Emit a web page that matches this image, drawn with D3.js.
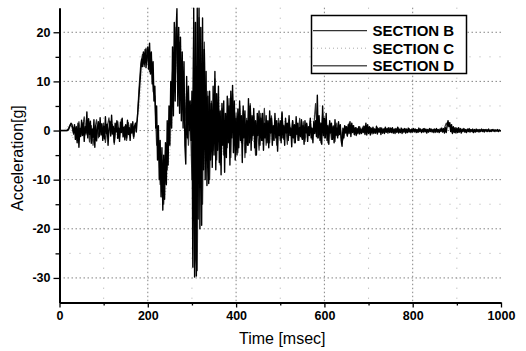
<!DOCTYPE html>
<html>
<head>
<meta charset="utf-8">
<script src="https://cdn.jsdelivr.net/npm/d3@7"></script>
<style>
  body { margin: 0; background: #fff; }
  svg { display: block; font-family: "Liberation Sans", Arial, sans-serif; }
</style>
</head>
<body>
<svg id="chart" width="526" height="351"></svg>
<script>
// ── Data ────────────────────────────────────────────────────────────────────
const xTicks = [0, 200, 400, 600, 800, 1000];
const yTicks = [-30, -20, -10, 0, 10, 20];
const xMinor = [100, 300, 500, 700, 900];
const yMinor = [-25, -15, -5, 5, 15];
const seriesNames = ["SECTION B", "SECTION C", "SECTION D"];

// sample spacing in msec for each record
const stepB = 2;
const stepC = 10;
const stepD = 4;

// SECTION B, every 2 ms, 0..1000
const secB = [
  0, 0, 0, 0, 0, 0, 0, 0, 0, 0, 0.2, 0.5, 1.0, 1.5, 1.3, 0.6, -0.5, 1.2, -1.8, 0.8, -2.5, 1.5, -3.4, 0.5, -1.2,
  2.1, -1.0, 1.6, -2.2, 0.8, -0.5, 3.8, -1.5, 2.4, -0.8, 1.9, -2.6, 0.3, -1.4, 2.2, -3.4, 1.0, -2.1, 0.6, 1.8, -1.2, 2.6, -0.9, 1.4, -2.0,
  0.9, -1.7, 2.8, -0.6, 1.3, -3.0, 0.4, 1.9, -1.1, 3.1, -0.7, 0.8, -2.4, 1.5, -0.3, 2.0, -1.6, 0.5, -2.2, 1.7, -0.4, 2.5, -1.3, 0.7, -1.9,
  1.2, -1.5, 2.1, -0.8, 0.6, -2.0, 1.4, -0.5, 1.8, -1.2, 0.9, 1.5, -0.3, 2.2, 4.5, 7.0, 9.5, 12.0, 14.5, 13.0, 16.0, 13.5, 16.5, 12.8, 15.5,
  17.0, 12.5, 17.8, 11.5, 16.0, 9.5, 14.0, 6.0, 9.0, 0.5, 5.0, -6.0, 1.0, -10.0, -2.0, -13.5, -3.5, -16.2, -5.0, -14.0, -2.5, -11.0, 2.0, -7.0, 5.0,
  -3.0, 10.0, 0.5, 17.0, 3.0, 22.0, 6.0, 20.0, 24.8, 5.0, 21.0, 3.5, 19.0, 2.0, 16.0, 0.5, 14.0, -3.0, -6.8, 11.0, -1.5, 9.0, 0.0, 6.0, -2.0,
  8.0, -27.8, 24.9, -29.8, 22.0, -29.6, 24.9, -18.0, 24.9, -20.0, 21.0, -19.3, 22.9, -8.0, 16.5, -10.0, 12.0, -11.2, 7.0, -10.8, 8.0, -6.0, 5.5, -7.5, 9.0,
  -5.0, 12.0, -8.0, 7.5, -4.0, 9.0, -6.5, 4.0, -9.0, 5.5, -3.0, 6.0, -8.5, 3.5, -5.5, 7.0, -2.5, 5.0, -7.0, 8.0, -1.5, 9.2, -4.5, 6.0, -6.0,
  2.5, -5.0, 4.4, -3.5, 6.0, -2.0, 3.0, -6.5, 5.0, -1.5, 4.0, -4.5, 2.0, -3.0, 6.5, -2.5, 5.0, -4.0, 3.0, -1.0, 4.5, -3.5, 2.0, -5.0, 3.5,
  -1.0, 4.0, -3.0, 2.5, -2.0, 3.5, -4.0, 1.5, -1.5, 3.0, -2.5, 2.0, -3.5, 4.0, -0.5, 2.5, -3.0, 1.0, -2.0, 3.5, -1.5, 2.0, -4.2, 1.5, -1.0,
  2.0, -2.5, 3.8, -1.5, 1.0, -3.0, 2.5, -0.5, 1.5, -2.0, 3.0, -1.0, 0.5, -3.3, 2.0, -1.5, 1.2, -2.5, 2.8, -0.8, 1.5, -2.0, 0.7, -1.2, 2.2,
  -1.8, 1.0, -2.8, 2.0, -0.5, 1.5, -2.2, 0.8, -1.0, 2.5, -1.5, 0.5, -2.5, 1.8, -0.6, 2.0, -1.2, 7.2, -1.5, 3.0, -2.0, 1.5, -2.8, 5.0, -1.0,
  2.5, -1.5, 3.5, -2.0, 1.0, -2.8, 2.0, -0.5, 1.5, -1.8, 0.8, -2.5, 2.2, -1.0, 0.5, -1.5, 1.8, -0.8, 1.2, -2.0, -3.2, 0.5, -1.5, 1.0, -0.5,
  0.8, -1.0, 1.2, -0.6, 1.8, -1.2, 1.5, -0.4, 1.0, -0.8, 0.6, -1.0, 0.4, -0.5, 0.8, -0.7, 0.3, -0.6, 0.5, -0.4, 0.9, -0.8, 1.5, -0.9, 1.2,
  -0.6, 0.8, -0.9, 0.5, -0.4, 0.7, -0.6, 0.3, -0.5, 0.9, -0.7, 0.4, -0.3, 0.6, -0.8, 0.5, -0.4, 0.3, -0.6, 0.7, -0.3, 0.4, -0.5, 0.6, -0.4,
  0.5, -0.4, 0.6, -0.5, 0.3, -0.6, 0.4, -0.3, 0.7, -0.5, 0.2, -0.4, 0.5, -0.6, 0.3, -0.2, 0.4, -0.5, 0.3, -0.4, 0.5, -0.3, 0.2, -0.4, 0.3,
  -0.3, 0.4, -0.2, 0.3, -0.4, 0.2, -0.3, 0.5, -0.2, 0.3, -0.4, 0.2, -0.3, 0.4, -0.2, 0.3, -0.5, 0.2, -0.3, 0.4, -0.2, 0.3, -0.3, 0.2, -0.4,
  0.3, -0.2, 0.4, -0.3, 0.2, -0.4, 0.3, -0.2, 0.5, -0.3, 0.4, -0.5, 0.6, -0.4, 1.0, 2.0, 0.8, 1.6, -0.2, 1.2, -0.6, 0.8, -0.4, 0.6, -0.5,
  0.5, -0.4, 0.6, -0.3, 0.4, -0.5, 0.3, -0.2, 0.4, -0.3, 0.2, -0.4, 0.3, -0.2, 0.4, -0.3, 0.2, -0.2, 0.3, -0.4, 0.2, -0.3, 0.3, -0.2, 0.2,
  -0.3, 0.2, -0.2, 0.3, -0.2, 0.2, -0.3, 0.2, -0.1, 0.2, -0.2, 0.3, -0.2, 0.1, -0.2, 0.2, -0.1, 0.2, -0.2, 0.1, -0.1, 0.2, -0.2, 0.1, -0.1,
  0
];

// SECTION C, every 10 ms, 0..1000
const secC = [
  0, 0, 1.0, -1.5, 1.2, -0.8, 2.0, -1.6, 0.9, -1.2,
  1.5, -1.0, 2.0, -1.4, 0.8, -1.1, 1.2, -0.5, 4.0, 14.0,
  15.0, 12.0, 2.0, -8.0, -13.0, -4.0, 8.0, 20.0, 14.0, -2.0,
  6.0, -20.0, 18.0, -8.0, 6.0, -3.0, 8.0, -5.0, 4.0, 6.0,
  -3.0, 4.0, -4.0, 5.0, -2.5, 3.0, -3.0, 2.0, -2.0, 2.5,
  -2.0, 2.0, -1.5, 1.8, -2.0, 1.2, -1.5, 1.5, 4.0, 2.0,
  -1.5, 1.5, -1.2, 1.0, -2.0, 0.8, 1.2, -0.6, 0.8, -0.5,
  0.5, -0.4, 0.4, -0.5, 0.3, -0.3, 0.4, -0.2, 0.3, -0.3,
  0.2, -0.3, 0.3, -0.2, 0.2, -0.3, 0.3, 1.2, 0.6, -0.2,
  0.2, -0.2, 0.2, -0.1, 0.2, -0.2, 0.1, -0.1, 0.1, -0.1,
  0
];

// SECTION D, every 4 ms, 0..1000
const secD = [
  0, 0, 0, 0, 0, 0.4, 1.2, 0.8, -0.8, 0.5, -2.0, 1.8, -1.0, 0.6, 2.8, -0.9, 1.5, -2.3, 1.0, -3.0, 0.4, 2.2, -1.5, 0.9, -0.6,
  1.5, -2.4, 0.7, 2.6, -0.9, 1.2, -2.8, 0.6, 1.8, -1.4, 2.3, -0.5, 0.9, -2.0, 1.6, -1.0, 0.8, -1.6, 1.1, 2.0, 8.5, 13.5, 15.5, 13.0, 16.8,
  14.5, 12.0, 15.0, 8.0, 7.0, -3.0, -1.0, -11.0, -6.0, -15.0, -4.0, -8.0, 2.0, 4.0, 12.0, 8.0, 21.0, 10.0, 18.0, 6.0, 12.0, 2.0, 8.0, -3.0, 4.0,
  -10.0, 22.0, -26.0, -28.5, 23.0, 12.0, -15.0, 18.0, -6.0, 8.0, -10.0, 6.0, -4.0, 10.5, -6.0, 5.0, -7.0, 4.5, -5.0, 2.0, -3.5, 6.5, -5.5, 7.5, -3.0,
  3.5, -4.5, 5.0, -2.5, 4.0, -5.5, 2.5, -3.0, 5.5, -2.0, 3.0, -5.0, 1.5, -4.0, 3.5, -2.0, 4.5, -3.0, 1.8, -2.5, 3.0, -1.5, 2.0, -3.0, 2.5,
  -2.0, 3.5, -1.8, 1.5, -2.8, 2.2, -1.0, 2.0, -2.5, 1.0, -2.0, 2.5, -1.5, 1.8, -2.2, 1.2, -1.0, 2.0, -1.8, 0.8, 5.5, -1.5, 2.0, -2.5, 3.5,
  -1.5, 2.2, -2.5, 1.5, -1.8, 1.0, -2.2, 1.5, -1.0, 0.5, -2.5, -1.0, 0.8, -1.2, 1.5, -0.6, 1.0, -0.9, 0.6, -0.7, 0.8, -0.5, 0.9, -0.6, 1.0,
  -0.5, 0.6, -0.7, 0.4, -0.5, 0.6, -0.3, 0.5, -0.6, 0.4, -0.4, 0.5, -0.3, 0.4, -0.5, 0.3, -0.4, 0.5, -0.3, 0.2, -0.4, 0.3, -0.3, 0.4, -0.2,
  0.3, -0.3, 0.2, -0.4, 0.3, -0.2, 0.4, -0.3, 0.2, -0.3, 0.3, -0.2, 0.3, -0.4, 0.2, -0.3, 0.4, -0.2, 0.5, 1.5, 0.9, 1.2, -0.3, 0.5, -0.4,
  0.3, -0.3, 0.2, -0.2, 0.3, -0.3, 0.2, -0.2, 0.2, -0.3, 0.2, -0.2, 0.1, -0.2, 0.2, -0.1, 0.2, -0.2, 0.1, -0.1, 0.2, -0.1, 0.1, -0.1, 0.1,
  0
];

// ── Scales ─────────────────────────────────────────────────────────────────
const svg = d3.select("#chart");
const plot = { left: 59.5, right: 501, top: 7.7, bottom: 302.5 };

const x = d3.scaleLinear().domain([0, 1000]).range([plot.left, plot.right]);
const y = d3.scaleLinear().domain([-35, 25]).range([plot.bottom, plot.top]);

// ── Grid ───────────────────────────────────────────────────────────────────
const grid = svg.append("g").attr("fill", "none");

grid.selectAll("line.vmin").data(xMinor).join("line")
  .attr("x1", (d) => x(d)).attr("x2", (d) => x(d))
  .attr("y1", plot.top).attr("y2", plot.bottom)
  .attr("stroke", "#999").attr("stroke-width", 0.8).attr("stroke-dasharray", "1 9");

grid.selectAll("line.hmin").data(yMinor).join("line")
  .attr("x1", plot.left).attr("x2", plot.right)
  .attr("y1", (d) => y(d)).attr("y2", (d) => y(d))
  .attr("stroke", "#999").attr("stroke-width", 0.8).attr("stroke-dasharray", "1 9");

grid.selectAll("line.vmaj").data(xTicks.slice(1, -1)).join("line")
  .attr("x1", (d) => x(d)).attr("x2", (d) => x(d))
  .attr("y1", plot.top).attr("y2", plot.bottom)
  .attr("stroke", "#777").attr("stroke-width", 0.9).attr("stroke-dasharray", "1.5 2.5");

grid.selectAll("line.hmaj").data(yTicks).join("line")
  .attr("x1", plot.left).attr("x2", plot.right)
  .attr("y1", (d) => y(d)).attr("y2", (d) => y(d))
  .attr("stroke", "#777").attr("stroke-width", 0.9).attr("stroke-dasharray", "1.5 2.5");

// ── Records ────────────────────────────────────────────────────────────────
svg.append("clipPath").attr("id", "clip").append("rect")
  .attr("x", plot.left).attr("y", plot.top - 1)
  .attr("width", plot.right - plot.left).attr("height", plot.bottom - plot.top + 1);

const lineFor = (step) => d3.line().x((d, i) => x(i * step)).y((d) => y(d));

const traces = svg.append("g").attr("clip-path", "url(#clip)").attr("fill", "none")
  .attr("stroke-linejoin", "round");

traces.append("path").datum(secC).attr("d", lineFor(stepC))
  .attr("stroke", "#aaa").attr("stroke-width", 0.8).attr("stroke-dasharray", "1 2");
traces.append("path").datum(secD).attr("d", lineFor(stepD))
  .attr("stroke", "#333").attr("stroke-width", 1.2);
traces.append("path").datum(secB).attr("d", lineFor(stepB))
  .attr("stroke", "#000").attr("stroke-width", 1.4);

// ── Axes ───────────────────────────────────────────────────────────────────
const fmt = (d) => String(d);

svg.append("g").attr("transform", `translate(0,${plot.bottom})`)
  .call(d3.axisBottom(x).tickValues(xTicks).tickFormat(fmt).tickSize(5).tickSizeOuter(0).tickPadding(4));
svg.append("g").attr("transform", `translate(0,${plot.bottom})`)
  .call(d3.axisBottom(x).tickValues(xMinor).tickSize(3).tickFormat(""))
  .call((g) => g.select(".domain").remove());

svg.append("g").attr("transform", `translate(${plot.left},0)`)
  .call(d3.axisLeft(y).tickValues(yTicks).tickFormat(fmt).tickSize(6).tickSizeOuter(0).tickPadding(3));
svg.append("g").attr("transform", `translate(${plot.left},0)`)
  .call(d3.axisLeft(y).tickValues(yMinor).tickSize(4).tickFormat(""))
  .call((g) => g.select(".domain").remove());

svg.selectAll(".domain").attr("stroke", "#000").attr("stroke-width", 2);
svg.selectAll(".tick line").attr("stroke", "#000").attr("stroke-width", 1.3);
svg.selectAll(".tick text")
  .attr("fill", "#000")
  .style("font-family", '"Liberation Sans", Arial, sans-serif')
  .style("font-size", "12.5px")
  .style("font-weight", "bold");

// ── Axis titles ────────────────────────────────────────────────────────────
svg.append("text")
  .attr("x", (plot.left + plot.right) / 2 + 2).attr("y", 344)
  .attr("text-anchor", "middle").attr("font-size", 16).attr("fill", "#000")
  .text("Time [msec]");

svg.append("text")
  .attr("transform", `translate(22.5,${(plot.top + plot.bottom) / 2 + 3}) rotate(-90)`)
  .attr("text-anchor", "middle").attr("font-size", 16).attr("fill", "#000")
  .text("Acceleration[g]");

// ── Legend ─────────────────────────────────────────────────────────────────
const legendStyle = [
  { stroke: "#333", width: 1.2, dash: null },
  { stroke: "#aaa", width: 1, dash: "1 3" },
  { stroke: "#555", width: 1.5, dash: null },
];
const legend = svg.append("g");
legend.append("rect")
  .attr("x", 311.5).attr("y", 15.5).attr("width", 155).attr("height", 58)
  .attr("fill", "#fff").attr("stroke", "#000").attr("stroke-width", 1.5);

const item = legend.selectAll("g.item").data(seriesNames).join("g")
  .attr("transform", (d, i) => `translate(0,${30.7 + i * 17.5})`);
item.append("line")
  .attr("x1", 313).attr("x2", 367)
  .attr("stroke", (d, i) => legendStyle[i].stroke)
  .attr("stroke-width", (d, i) => legendStyle[i].width)
  .attr("stroke-dasharray", (d, i) => legendStyle[i].dash);
item.append("text")
  .attr("x", 372.5).attr("y", 5.3)
  .attr("font-size", 15).attr("font-weight", "bold").attr("fill", "#000")
  .text((d) => d);
</script>
</body>
</html>
